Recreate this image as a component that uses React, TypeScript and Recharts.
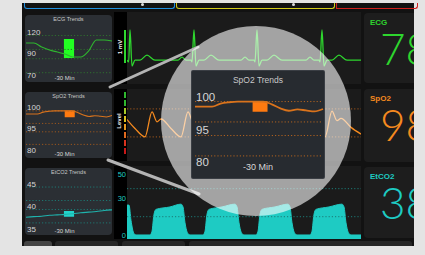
import React from 'react';
import {
  LineChart,
  Line,
  AreaChart,
  Area,
  XAxis,
  YAxis,
  ReferenceLine,
  ReferenceArea,
} from 'recharts';

// ---- trend values, -30 min -> now ----
const ECG_TREND = [111.9, 111.9, 107.6, 104.4, 102.2, 100.0, 96.9, 96.9, 103.3, 115.1, 115.1, 114.1];
const SPO2_TREND = [98.5, 98.5, 98.5, 99.4, 99.8, 100.0, 100.0, 100.0, 100.0, 99.2, 98.0, 97.3, 97.7, 97.4, 97.1, 97.8];
const ETCO2_TREND = [30.5, 30.8, 31.0, 31.4, 31.6, 31.8, 32.1, 32.5, 32.8, 33.1, 33.5, 33.8];

// dotted limit lines of each trend
const ECG_GRID = [120, 105, 95, 80];
const SPO2_GRID = [100, 94, 90, 84];
const ETCO2_GRID = [44, 38, 34, 28];

// tick labels, bottom -> top
const ECG_LABELS = ['70', '90', '120'];
const SPO2_LABELS = ['80', '95', '100'];
const ETCO2_LABELS = ['35', '40', '45'];

// current window marker: [fromIdx, toIdx, low, high]
const ECG_WINDOW = [4.85, 6.15, 95.8, 116.2];
const SPO2_WINDOW = [6.75, 8.5, 97.0, 100.2];
const ETCO2_WINDOW = [4.85, 6.15, 30.8, 33.3];

// ---- live waveforms: [time ms, value] ----
const ECG_WAVE = [
  [0, 0], [20, -0.05], [36, 0.92], [60, -0.18], [96, 0], [156, 0], [240, 0.15], [336, 0],
  [612, 0], [660, 0.09], [708, 0], [768, 0], [780, -0.05], [804, 0.92], [828, -0.18], [864, 0], [924, 0], [1008, 0.15], [1104, 0],
  [1368, 0], [1416, 0.09], [1464, 0], [1524, 0], [1536, -0.05], [1560, 0.92], [1584, -0.18], [1620, 0], [1680, 0], [1764, 0.15], [1860, 0],
  [2148, 0], [2196, 0.09], [2244, 0], [2304, 0], [2316, -0.05], [2340, 0.92], [2364, -0.18], [2400, 0], [2460, 0], [2544, 0.15], [2640, 0], [2808, 0],
];
const PLETH_WAVE = [
  [0, 62], [96, 30], [216, 0], [300, 89], [360, 54], [408, 64], [528, 30], [648, 0],
  [732, 89], [792, 54], [840, 64], [960, 30], [1080, 0],
  [1164, 89], [1224, 54], [1272, 64], [1392, 30], [1512, 0],
  [1596, 89], [1656, 54], [1704, 64], [1824, 30], [1944, 0],
  [2028, 89], [2088, 54], [2136, 64], [2256, 30], [2376, 0],
  [2460, 92], [2520, 58], [2568, 66], [2688, 34], [2808, 10],
];
const CO2_WAVE = [
  [0, 24.5], [24, 24.5], [48, 12], [84, 1], [108, 0], [276, 0],
  [300, 3], [324, 17], [348, 21], [516, 23], [648, 25.3], [672, 23], [696, 10], [732, 1], [756, 0], [912, 0],
  [936, 3], [960, 17], [984, 21], [1140, 23], [1296, 25.3], [1320, 23], [1344, 10], [1380, 1], [1404, 0], [1548, 0],
  [1572, 3], [1596, 17], [1620, 21], [1776, 23], [1932, 25.3], [1956, 23], [1980, 10], [2016, 1], [2040, 0], [2196, 0],
  [2220, 3], [2244, 17], [2268, 21], [2424, 23], [2580, 25.3], [2604, 23], [2628, 10], [2664, 1], [2688, 0], [2808, 0],
];
const PLETH_GRID = [0, 100];
const CO2_GRID = [15, 38];
const CO2_TICKS = [0, 30, 50];

// ---- numerics ----
const PARAM_NAMES = ['ECG', 'SpO2', 'EtCO2'];
const PARAM_VALUES = [78, 98, 38];
const LEVEL_COLORS = ['#2fb82f', '#2fb82f', '#a8c82a', '#dcc21e', '#e89a1e', '#e06a1e', '#d8321e', '#c81818'];

const GREEN = '#2ed62e';
const ORANGE = '#f58a1f';
const TEAL = '#1ecbc3';
const FONT = "'Liberation Sans', Arial, sans-serif";

const toPts = (rows: number[][]) => rows.map(([t, v]) => ({ t, v }));

type TrendProps = {
  left: number; top: number; w: number; h: number;
  title: string; values: number[]; domain: [number, number];
  grid: number[]; labels: string[]; labelPos: [number, number];
  win: number[]; color: string; boxColor: string; gridColor: string;
  big?: boolean;
};

const TrendPanel = (p: TrendProps) => {
  const data = p.values.map((v, i) => ({ i, v }));
  // labels are evenly spaced; labelPos = [frac of top label, frac of bottom label]
  const n = p.labels.length - 1;
  const span = n / (p.labelPos[1] - p.labelPos[0]);
  const lblTop = p.labelPos[1] * span;
  const s = p.big
    ? { title: 8.5, lab: 11.5, foot: 9, padL: 3, padR: 1, labX: 4, titleTop: 5, footBot: 5, lw: 1.8, footX: 0 }
    : { title: 5.5, lab: 8, foot: 6, padL: 1, padR: 0, labX: 2, titleTop: 2, footBot: 0, lw: 1.1, footX: -4 };

  return (
    <div
      style={{
        position: 'absolute', left: p.left, top: p.top, width: p.w, height: p.h,
        background: p.big ? '#272b30' : '#2b2f34', borderRadius: p.big ? 1 : 4, overflow: 'hidden',
        boxShadow: p.big ? '0 0 0 1px #3a3e44' : 'none',
      }}
    >
      <LineChart width={p.w} height={p.h} data={data} margin={{ top: 0, right: s.padR, bottom: 0, left: s.padL }}>
        <XAxis dataKey="i" type="number" domain={[0, p.values.length - 1]} hide />
        <YAxis yAxisId="v" type="number" domain={p.domain} hide allowDataOverflow />
        <YAxis
          yAxisId="l" type="number" domain={[lblTop - span, lblTop]} allowDataOverflow
          ticks={p.labels.map((_, i) => i)} tickFormatter={(i: number) => p.labels[i]} interval={0}
          mirror width={1} axisLine={false} tickLine={false} tickSize={0} tickMargin={s.labX - s.padL}
          tick={{ fill: '#d6d6d6', fontSize: s.lab }}
        />
        {p.grid.map((g) => (
          <ReferenceLine key={g} yAxisId="v" y={g} stroke={p.gridColor} strokeDasharray="1.2 2" strokeWidth={1} />
        ))}
        <Line yAxisId="v" dataKey="v" type="monotone" stroke={p.color} strokeWidth={s.lw} dot={false} isAnimationActive={false} />
        <ReferenceArea yAxisId="v" x1={p.win[0]} x2={p.win[1]} y1={p.win[2]} y2={p.win[3]} fill={p.boxColor} fillOpacity={1} stroke="none" />
      </LineChart>
      <div style={{ position: 'absolute', left: 0, top: s.titleTop, width: p.w, textAlign: 'center', fontSize: s.title, lineHeight: 1, color: '#c8c8c8' }}>
        {p.title}
      </div>
      <div style={{ position: 'absolute', left: s.footX, bottom: s.footBot, width: p.w, textAlign: 'center', fontSize: s.foot, lineHeight: 1.2, color: '#d6d6d6' }}>
        -30 Min
      </div>
    </div>
  );
};

const Abs = ({ l, t, w, h, children, style }: any) => (
  <div style={{ position: 'absolute', left: l, top: t, width: w, height: h, ...style }}>{children}</div>
);

const NumPanel = ({ t, h, i, color }: { t: number; h: number; i: number; color: string }) => (
  <Abs l={364} t={t} w={50} h={h} style={{ background: '#1d1d1d', borderRadius: '4px 0 0 4px', overflow: 'hidden' }}>
    <div style={{ position: 'absolute', left: 6, top: 6, fontSize: 8, fontWeight: 700, color, lineHeight: 1 }}>{PARAM_NAMES[i]}</div>
    <div style={{ position: 'absolute', left: 16, top: 17, fontSize: 44, fontFamily: "Lato, 'Open Sans', sans-serif", fontWeight: 300, color, lineHeight: '36px', whiteSpace: 'nowrap' }}>
      {PARAM_VALUES[i]}
    </div>
  </Abs>
);

export default function App() {
  return (
    <div style={{ position: 'fixed', left: 0, top: 0, width: 425, height: 255, background: '#e4e4e4', overflow: 'hidden', fontFamily: FONT }}>
      {/* monitor body */}
      <Abs l={22} t={3} w={392} h={243} style={{ background: '#121212' }} />
      {/* top menu tabs */}
      <Abs l={24} t={3} w={149} h={5} style={{ border: '1.5px solid #1f8fe0', borderTop: 'none', borderRadius: '0 0 3px 3px' }} />
      <Abs l={176} t={3} w={157} h={5} style={{ border: '1.5px solid #d4cc1a', borderTop: 'none', borderRadius: '0 0 3px 3px' }} />
      <Abs l={336} t={3} w={80} h={5} style={{ border: '1.5px solid #d0201c', borderTop: 'none', borderRadius: '0 0 3px 0' }} />
      <Abs l={141} t={3} w={3} h={3} style={{ background: '#ddd', borderRadius: 2 }} />
      <Abs l={292} t={3} w={3} h={3} style={{ background: '#ddd', borderRadius: 2 }} />
      {/* bottom button bar */}
      <Abs l={24} t={241} w={28} h={5} style={{ background: '#444', borderRadius: '3px 3px 0 0' }} />
      <Abs l={55} t={241} w={63} h={5} style={{ background: '#262626', borderRadius: '3px 3px 0 0' }} />
      <Abs l={122} t={241} w={63} h={5} style={{ background: '#262626', borderRadius: '3px 3px 0 0' }} />
      <Abs l={189} t={241} w={223} h={5} style={{ background: '#262626', borderRadius: '3px 3px 0 0' }} />

      {/* trend panels */}
      <TrendPanel left={25} top={15} w={87} h={67} title="ECG Trends" values={ECG_TREND} domain={[70, 142]}
        grid={ECG_GRID} labels={ECG_LABELS} labelPos={[0.254, 0.896]} win={ECG_WINDOW}
        color="#2fb52f" boxColor="#22ff22" gridColor="#2f6f2f" />
      <TrendPanel left={25} top={92} w={87} h={66} title="SpO2 Trends" values={SPO2_TREND} domain={[77.5, 109]}
        grid={SPO2_GRID} labels={SPO2_LABELS} labelPos={[0.227, 0.879]} win={SPO2_WINDOW}
        color="#d9731c" boxColor="#ff7a10" gridColor="#9a561e" />
      <TrendPanel left={25} top={168} w={87} h={67} title="EtCO2 Trends" values={ETCO2_TREND} domain={[22.6, 52.5]}
        grid={ETCO2_GRID} labels={ETCO2_LABELS} labelPos={[0.239, 0.91]} win={ETCO2_WINDOW}
        color="#1fb3ad" boxColor="#22d3cb" gridColor="#1e7772" />

      {/* scale strips */}
      <Abs l={114} t={12} w={13} h={72} style={{ background: '#000' }} />
      <Abs l={114} t={89} w={13} h={72} style={{ background: '#000' }} />
      <Abs l={114} t={166} w={13} h={73} style={{ background: '#000' }} />
      <Abs l={124} t={30} w={1.5} h={33} style={{ background: GREEN }} />
      <Abs l={105} t={43} w={30} h={8} style={{ transform: 'rotate(-90deg)', color: '#eee', fontSize: 6, fontWeight: 700, textAlign: 'center', lineHeight: '8px' }}>1 mV</Abs>
      <Abs l={104} t={117} w={30} h={8} style={{ transform: 'rotate(-90deg)', color: '#eee', fontSize: 6, fontWeight: 700, textAlign: 'center', lineHeight: '8px' }}>Level</Abs>
      {LEVEL_COLORS.map((c, i) => (
        <Abs key={i} l={124} t={92 + i * 8} w={1.5} h={6} style={{ background: c }} />
      ))}

      {/* waveforms */}
      <Abs l={127} t={12} w={234} h={72} style={{ background: '#1b1b1b' }}>
        <LineChart width={234} height={72} data={toPts(ECG_WAVE)} margin={{ top: 0, right: 0, bottom: 0, left: 0 }}>
          <XAxis dataKey="t" type="number" domain={[0, 2808]} hide />
          <YAxis type="number" domain={[-0.73, 1.47]} hide />
          <Line dataKey="v" type="monotone" stroke={GREEN} strokeWidth={1.3} dot={false} isAnimationActive={false} />
        </LineChart>
      </Abs>
      <Abs l={127} t={89} w={234} h={72} style={{ background: '#1b1b1b' }}>
        <LineChart width={234} height={72} data={toPts(PLETH_WAVE)} margin={{ top: 0, right: 0, bottom: 0, left: 0 }}>
          <XAxis dataKey="t" type="number" domain={[0, 2808]} hide />
          <YAxis type="number" domain={[-86, 171]} hide />
          {PLETH_GRID.map((g) => (
            <ReferenceLine key={g} y={g} stroke="#a3581c" strokeDasharray="1.2 2" />
          ))}
          <Line dataKey="v" type="monotone" stroke={ORANGE} strokeWidth={1.3} dot={false} isAnimationActive={false} />
        </LineChart>
      </Abs>
      <Abs l={127} t={166} w={234} h={73} style={{ background: '#1b1b1b' }} />
      <Abs l={114} t={166} w={247} h={73}>
        <AreaChart width={247} height={73} data={toPts(CO2_WAVE)} margin={{ top: 0, right: 0, bottom: 0, left: 0 }}>
          <XAxis dataKey="t" type="number" domain={[0, 2808]} hide />
          <YAxis type="number" domain={[-3.3, 56.6]} ticks={CO2_TICKS} interval={0} width={13}
            axisLine={false} tickLine={false} tickSize={0} tickMargin={1} tick={{ fill: TEAL, fontSize: 7.5 }} />
          {CO2_GRID.map((g) => (
            <ReferenceLine key={g} y={g} stroke="#1c7a75" strokeDasharray="1.2 2" />
          ))}
          <Area dataKey="v" type="monotone" baseValue={-3.3} stroke={TEAL} strokeWidth={1} fill={TEAL} fillOpacity={1} isAnimationActive={false} />
        </AreaChart>
      </Abs>

      {/* numerics */}
      <NumPanel t={13} h={70} i={0} color={GREEN} />
      <NumPanel t={89} h={73} i={1} color={ORANGE} />
      <NumPanel t={167} h={71} i={2} color={TEAL} />

      {/* magnifier */}
      <svg width={425} height={255} style={{ position: 'absolute', left: 0, top: 0 }}>
        <line x1={110} y1={87} x2={198} y2={47} stroke="#b4b4b4" strokeWidth={3} strokeLinecap="round" />
        <line x1={108} y1={160} x2={199} y2={194} stroke="#b4b4b4" strokeWidth={3} strokeLinecap="round" />
        <circle cx={256} cy={121} r={95} fill="rgba(255,255,255,0.6)" />
      </svg>
      <TrendPanel left={192} top={71} w={132} h={107} title="SpO2 Trends" values={SPO2_TREND} domain={[77.5, 109]}
        grid={SPO2_GRID} labels={SPO2_LABELS} labelPos={[0.243, 0.85]} win={SPO2_WINDOW}
        color="#d9731c" boxColor="#ff7a10" gridColor="#b0621f" big />
    </div>
  );
}
